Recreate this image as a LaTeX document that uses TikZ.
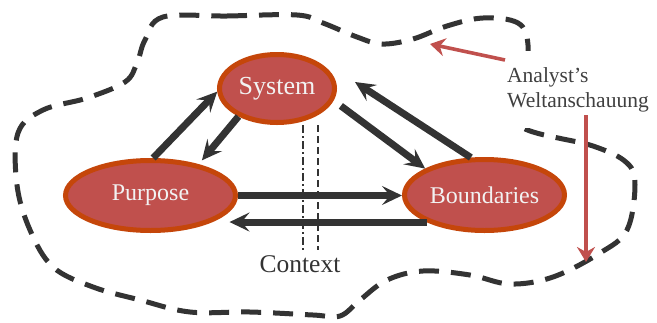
\documentclass[tikz,border=0pt]{standalone}
\usepackage{fontspec}
\setmainfont{Liberation Serif}
\usetikzlibrary{arrows.meta,shapes.geometric,calc}
\definecolor{inkdark}{RGB}{51,51,51}
\definecolor{ovalfill}{RGB}{192,80,77}
\definecolor{ovalrim}{RGB}{197,70,10}
\definecolor{notered}{RGB}{192,80,77}
\definecolor{labelgray}{RGB}{64,64,64}
\begin{document}
\begin{tikzpicture}[x=1pt,y=-1pt,
  oval/.style={ellipse, draw=ovalrim, fill=ovalfill, line width=5pt, inner sep=0pt,
    text=white!95!black, font=\fontsize{24}{28}\selectfont},
  flow/.style={draw=inkdark, line width=7pt, -{Stealth[length=20pt,width=19pt,inset=8pt]}},
  pointer/.style={draw=notered, line width=3.6pt, -{Stealth[length=15pt,width=18pt,inset=5pt]}},
  cloudline/.style={draw=inkdark, line width=5pt, dash pattern=on 20pt off 12pt},
  ctxline/.style={draw=inkdark, line width=1.6pt},
]
\useasboundingbox (0,0) rectangle (657,322);

% worldview boundary
\draw[cloudline] plot[smooth cycle, tension=0.6] coordinates {
  (163,17) (227,16) (297,15) (323,23) (357,37) (382,44) (413,39) (447,26)
  (483,18) (518,23) (528,45) (524,90) (520,126) (593,146) (627,163) (635,185)
  (627,230) (600,253) (553,277) (510,284) (470,275) (423,271) (387,280)
  (360,300) (340,316) (313,315) (250,312) (190,312) (140,300) (93,287)
  (53,267) (30,230) (17,185) (18,133) (43,110) (87,98) (125,82) (137,63) (145,40)};

% worldview label
\node[fill=white, inner xsep=4pt, inner ysep=16pt, anchor=west, align=left,
  text=labelgray, font=\fontsize{21.5}{25}\selectfont] (ana) at (503,89.5)
  {Analyst’s\\Weltanschauung};

% context lines
\draw[ctxline, dash pattern=on 8pt off 3pt on 2pt off 3pt] (303,125) -- (303,250);
\draw[ctxline, dash pattern=on 7pt off 4pt] (318,125) -- (318,250);
\node[anchor=base, text=inkdark, font=\fontsize{25.5}{28}\selectfont] (ctx) at (300,272) {Context};

% three elements
\node[oval, minimum width=115pt, minimum height=68pt, font=\fontsize{26}{30}\selectfont] (sys) at (277,88.5) {System};
\node[oval, minimum width=170pt, minimum height=70pt] (pur) at (150.5,195.5) {Purpose};
\node[oval, minimum width=160pt, minimum height=71pt] (bnd) at (484.5,195) {Boundaries};

% relations
\coordinate (sysback) at (355,82);
\draw[flow] (pur.86) -- (sys.183);
\draw[flow, shorten >=5pt] (sys.216) -- (pur.33);
\draw[flow, shorten <=9pt] (sys.-12) -- (bnd.156);
\draw[flow] (bnd.110) -- (sysback);
\draw[flow] (pur.east) -- (pur.east -| bnd.west);
\draw[flow, shorten >=-8.5pt] (bnd.205) -- (bnd.205 -| pur.east);

% pointers from the label to the boundary
\coordinate (anatail) at (505,60);
\coordinate (anahead) at (430,44);
\coordinate (weltail) at (586,115);
\coordinate (welhead) at (586,262);
\draw[pointer] (anatail) -- (anahead);
\draw[pointer] (weltail) -- (welhead);
\end{tikzpicture}
\end{document}
